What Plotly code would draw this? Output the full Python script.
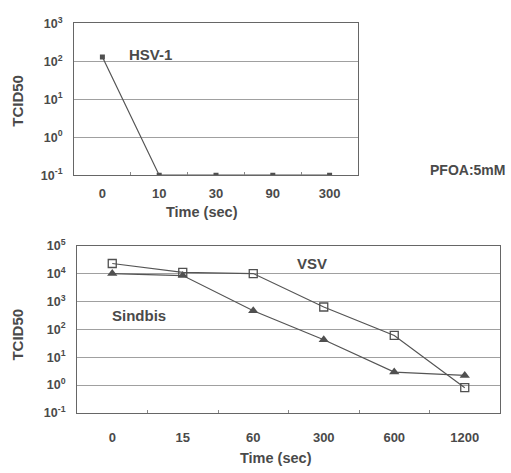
import plotly.graph_objects as go

# Top panel (HSV-1)
top_times = ["0", "10", "30", "90", "300"]
hsv1 = [130, 0.1, 0.1, 0.1, 0.1]

# Bottom panel (VSV, Sindbis)
bot_times = ["0", "15", "60", "300", "600", "1200"]
vsv = [23000, 11000, 10000, 630, 60, 0.8]
sindbis = [10000, 8500, 460, 42, 2.9, 2.2]

top_exps = [-1, 0, 1, 2, 3]
bot_exps = [-1, 0, 1, 2, 3, 4, 5]

W, H = 511, 473
def px(x): return x / W
def py(y): return 1 - y / H

TXT = "#4a4a4a"
LINE = "#555555"
GRID = "#a0a0a0"
FONT = dict(family="Liberation Sans, Arial", size=13, color=TXT, weight="bold")

fig = go.Figure()
fig.add_trace(go.Scatter(x=top_times, y=hsv1, mode="lines+markers",
                         line=dict(color=LINE, width=1.2),
                         marker=dict(symbol="square", size=5, color="#505050"),
                         xaxis="x", yaxis="y", showlegend=False))
fig.add_trace(go.Scatter(x=bot_times, y=sindbis, mode="lines+markers",
                         line=dict(color=LINE, width=1.2),
                         marker=dict(symbol="triangle-up", size=9, color="#505050"),
                         xaxis="x2", yaxis="y2", showlegend=False))
fig.add_trace(go.Scatter(x=bot_times, y=vsv, mode="lines+markers",
                         line=dict(color=LINE, width=1.2),
                         marker=dict(symbol="square-open", size=8, color="#505050",
                                     line=dict(width=1.3)),
                         xaxis="x2", yaxis="y2", showlegend=False))

def sup(e):
    return "10<sup>%d</sup>" % e

xcommon = dict(type="category", showline=True, linecolor="#666", linewidth=1.2,
               mirror=True, showgrid=False, ticks="inside", ticklen=3,
               tickson="boundaries", tickcolor="#888", tickfont=FONT, zeroline=False)
ycommon = dict(type="log", showline=True, linecolor="#666", linewidth=1, mirror=True,
               showgrid=True, gridcolor=GRID, gridwidth=1, ticks="",
               tickfont=dict(FONT, size=12.5), zeroline=False, ticklabelstandoff=8)

fig.update_layout(
    width=W, height=H, margin=dict(l=0, r=0, t=0, b=0),
    paper_bgcolor="white", plot_bgcolor="white",
    xaxis=dict(xcommon, domain=[px(74), px(358)], anchor="y", range=[-0.5, 4.5],
               ticklabelstandoff=6),
    yaxis=dict(ycommon, domain=[py(172), py(15)], anchor="x", range=[-1, 3],
               tickvals=[10.0**e for e in top_exps], ticktext=[sup(e) for e in top_exps]),
    xaxis2=dict(xcommon, domain=[px(77), px(500)], anchor="y2", range=[-0.5, 5.5],
                ticklabelstandoff=12),
    yaxis2=dict(ycommon, domain=[py(418), py(245)], anchor="x2", range=[-1, 5],
                tickvals=[10.0**e for e in bot_exps], ticktext=[sup(e) for e in bot_exps]),
)

def ann(text, x, y, angle=0, size=15):
    fig.add_annotation(text=text, x=px(x), y=py(y), xref="paper", yref="paper",
                       showarrow=False, textangle=angle,
                       font=dict(FONT, size=size), xanchor="center", yanchor="middle")

ann("HSV-1", 150, 47)
ann("VSV", 312, 263)
ann("Sindbis", 139, 317)
ann("PFOA:5mM", 467, 167, size=14)
ann("TCID50", 18, 95, angle=-90)
ann("TCID50", 18, 337, angle=-90)
ann("Time (sec)", 202, 210, size=14.5)
ann("Time (sec)", 276, 465, size=14.5)

fig.write_html("out.html")
